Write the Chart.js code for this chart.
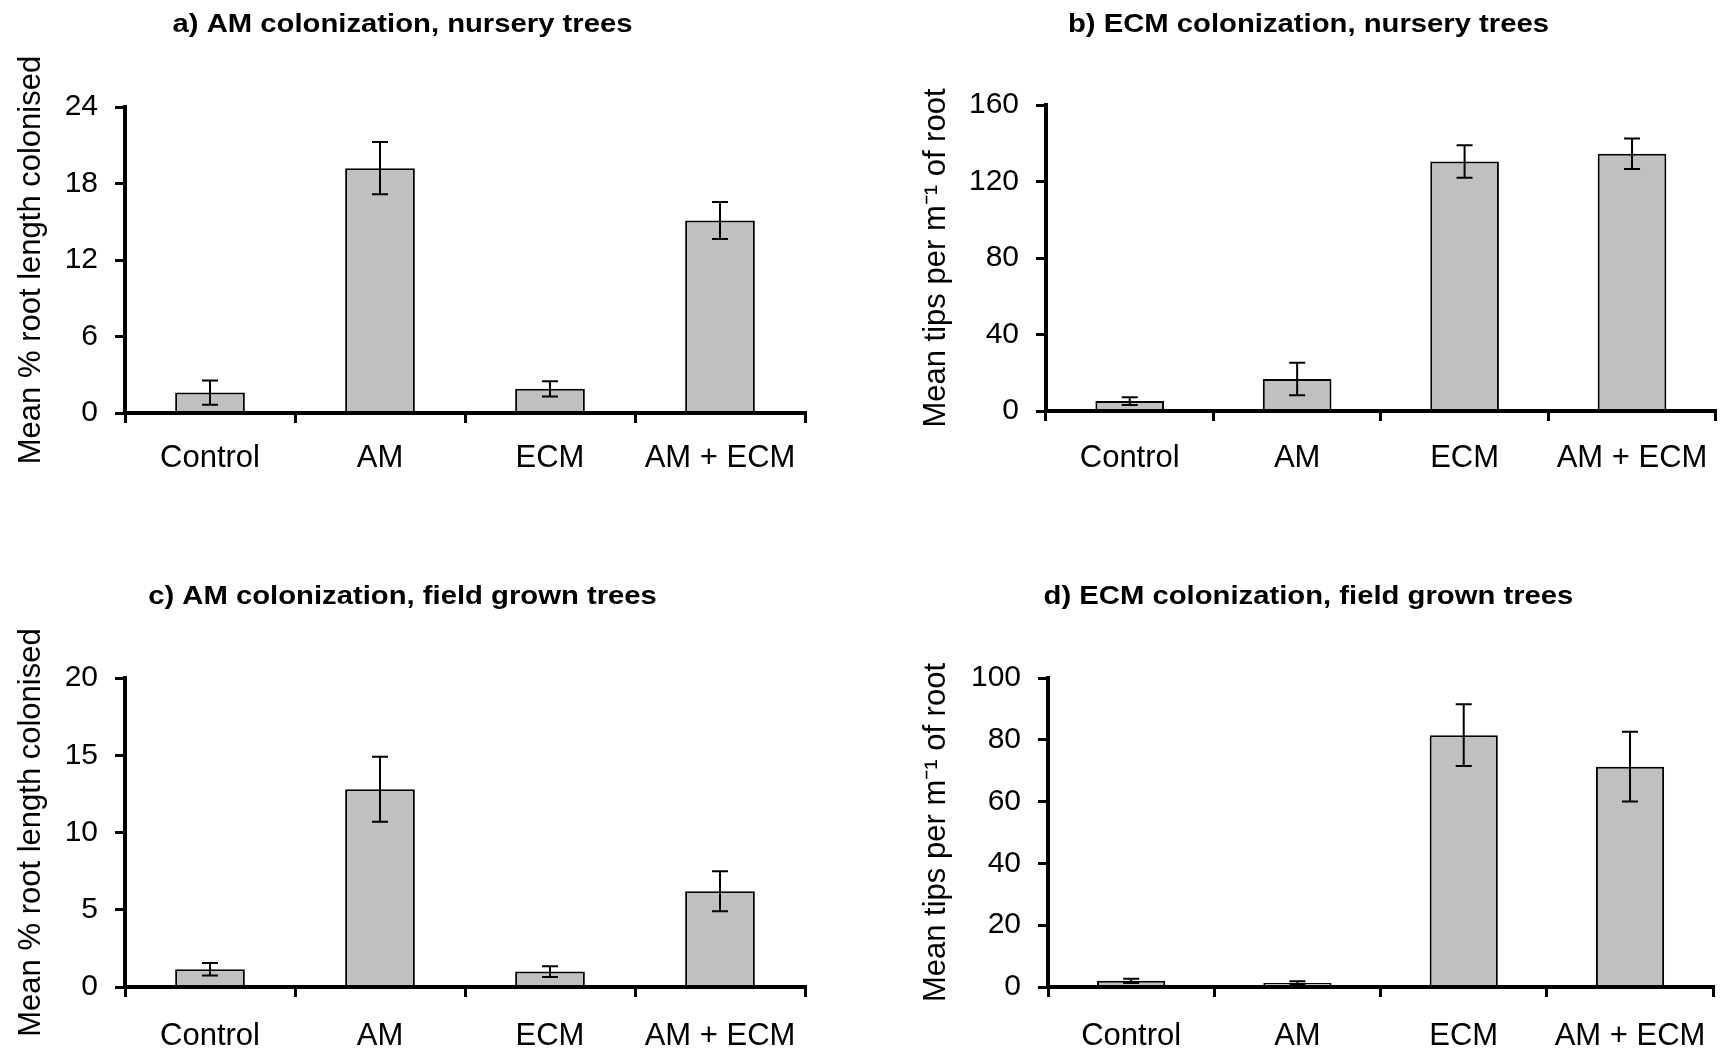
<!DOCTYPE html>
<html>
<head>
<meta charset="utf-8">
<title>AM and ECM colonization</title>
<script src="https://cdn.jsdelivr.net/npm/chart.js@4.4.1/dist/chart.umd.min.js"></script>
<style>
  html, body { margin: 0; padding: 0; background: #fff; overflow: hidden; }
  .panel { position: absolute; }
</style>
</head>
<body>
<div class="panel" style="left:0;top:0;width:863px;height:540px"><canvas id="chartA"></canvas></div>
<div class="panel" style="left:895px;top:0;width:832px;height:540px"><canvas id="chartB"></canvas></div>
<div class="panel" style="left:0;top:540px;width:863px;height:512px"><canvas id="chartC"></canvas></div>
<div class="panel" style="left:895px;top:540px;width:832px;height:512px"><canvas id="chartD"></canvas></div>
<script>
const treatments = ['Control', 'AM', 'ECM', 'AM + ECM'];

// a) AM colonization, nursery trees (% root length)
const amNursery = [1.6, 19.2, 1.9, 15.1];
const amNurseryErr = [0.95, 2.05, 0.6, 1.45];
const amNurseryTicks = [0, 6, 12, 18, 24];

// b) ECM colonization, nursery trees (tips per m)
const ecmNursery = [5.2, 16.7, 130.5, 134.5];
const ecmNurseryErr = [2.0, 8.5, 8.5, 8.0];
const ecmNurseryTicks = [0, 40, 80, 120, 160];

// c) AM colonization, field grown trees
const amField = [1.15, 12.8, 1.0, 6.2];
const amFieldErr = [0.4, 2.1, 0.35, 1.3];
const amFieldTicks = [0, 5, 10, 15, 20];

// d) ECM colonization, field grown trees
const ecmField = [2.0, 1.3, 81.5, 71.3];
const ecmFieldErr = [0.7, 0.6, 10.0, 11.3];
const ecmFieldTicks = [0, 20, 40, 60, 80, 100];

const amLabel = 'Mean % root length colonised';
const ecmLabel = 'Mean tips per m\u207B\u00B9 of root';

Chart.defaults.font.family = '"Liberation Sans", Arial, sans-serif';
Chart.defaults.color = '#000';

// standard error whiskers, drawn through the chart scales
const errorBars = {
    id: 'errorBars',
    afterDatasetsDraw(chart, args, opts) {
        const { ctx, scales: { x, y } } = chart;
        const values = chart.data.datasets[0].data;
        ctx.save();
        ctx.strokeStyle = '#000';
        ctx.lineWidth = 2;
        values.forEach((v, i) => {
            const e = opts.errors[i];
            const px = x.getPixelForValue(i);
            const top = y.getPixelForValue(v + e);
            const bot = y.getPixelForValue(Math.max(v - e, 0));
            ctx.beginPath();
            ctx.moveTo(px, top); ctx.lineTo(px, bot);
            ctx.moveTo(px - 8, top); ctx.lineTo(px + 8, top);
            ctx.moveTo(px - 8, bot); ctx.lineTo(px + 8, bot);
            ctx.stroke();
        });
        ctx.restore();
    }
};

// the panel titles in the figure are set in a wide bold face
const wideTitle = {
    id: 'wideTitle',
    beforeDraw(chart, args, opts) {
        const t = chart.titleBlock;
        if (!t || t._wide) return;
        const draw = t.draw.bind(t);
        t.draw = function () {
            const ctx = this.ctx;
            const cx = (this.left + this.right) / 2;
            ctx.save();
            ctx.translate(cx, 0);
            ctx.scale(opts.stretch, 1);
            ctx.translate(-cx, 0);
            draw();
            ctx.restore();
        };
        t._wide = true;
    }
};

function makePanel(id, cfg) {
    const canvas = document.getElementById(id);
    if (!canvas) return;

    new Chart(canvas.getContext('2d'), {
        type: 'bar',
        data: {
            labels: treatments,
            datasets: [{
                data: cfg.values,
                backgroundColor: '#c0c0c0',
                borderColor: '#000',
                borderWidth: 2,
                barPercentage: 0.41,
                categoryPercentage: 1
            }]
        },
        options: {
            responsive: true,
            maintainAspectRatio: false,
            animation: false,
            layout: { padding: { right: cfg.padRight } },
            plugins: {
                legend: { display: false },
                tooltip: { enabled: false },
                title: {
                    display: true,
                    text: cfg.title,
                    color: '#000',
                    font: { size: 25, weight: 'bold' },
                    padding: cfg.titlePad
                },
                errorBars: { errors: cfg.errors },
                wideTitle: { stretch: 1.17 }
            },
            scales: {
                x: {
                    afterFit: axis => { axis.height = cfg.xHeight; },
                    border: { color: '#000', width: 4, z: 1 },
                    grid: { offset: true, drawOnChartArea: false, color: '#000', lineWidth: 3, tickLength: 10 },
                    ticks: { color: '#000', padding: cfg.xPad, font: { size: 31 }, maxRotation: 0, autoSkip: false }
                },
                y: {
                    min: cfg.ticks[0],
                    max: cfg.ticks[cfg.ticks.length - 1],
                    afterBuildTicks: axis => { axis.ticks = cfg.ticks.map(v => ({ value: v })); },
                    afterFit: axis => { axis.width = cfg.yWidth; },
                    border: { color: '#000', width: 4, z: 1 },
                    grid: { drawOnChartArea: false, color: '#000', lineWidth: 3, tickLength: 10 },
                    ticks: { color: '#000', padding: 17, font: { size: 30 } },
                    title: {
                        display: true,
                        text: cfg.yTitle,
                        color: '#000',
                        font: { size: 31 },
                        padding: { top: cfg.yTitlePad, bottom: 0 }
                    }
                }
            }
        },
        plugins: [errorBars, wideTitle]
    });
}

makePanel('chartA', {
    title: 'a) AM colonization, nursery trees',
    values: amNursery, errors: amNurseryErr, ticks: amNurseryTicks, yTitle: amLabel,
    padRight: 58, yWidth: 125, xHeight: 127, xPad: 17, yTitlePad: 13,
    titlePad: { top: 10, bottom: 67 }
});
makePanel('chartB', {
    title: 'b) ECM colonization, nursery trees',
    values: ecmNursery, errors: ecmNurseryErr, ticks: ecmNurseryTicks, yTitle: ecmLabel,
    padRight: 5, yWidth: 151, xHeight: 129, xPad: 19, yTitlePad: 23,
    titlePad: { top: 10, bottom: 65 }
});
makePanel('chartC', {
    title: 'c) AM colonization, field grown trees',
    values: amField, errors: amFieldErr, ticks: amFieldTicks, yTitle: amLabel,
    padRight: 58, yWidth: 125, xHeight: 65, xPad: 21, yTitlePad: 13,
    titlePad: { top: 42, bottom: 66 }
});
makePanel('chartD', {
    title: 'd) ECM colonization, field grown trees',
    values: ecmField, errors: ecmFieldErr, ticks: ecmFieldTicks, yTitle: ecmLabel,
    padRight: 5, yWidth: 153, xHeight: 65, xPad: 21, yTitlePad: 23,
    titlePad: { top: 42, bottom: 66 }
});
</script>
</body>
</html>
